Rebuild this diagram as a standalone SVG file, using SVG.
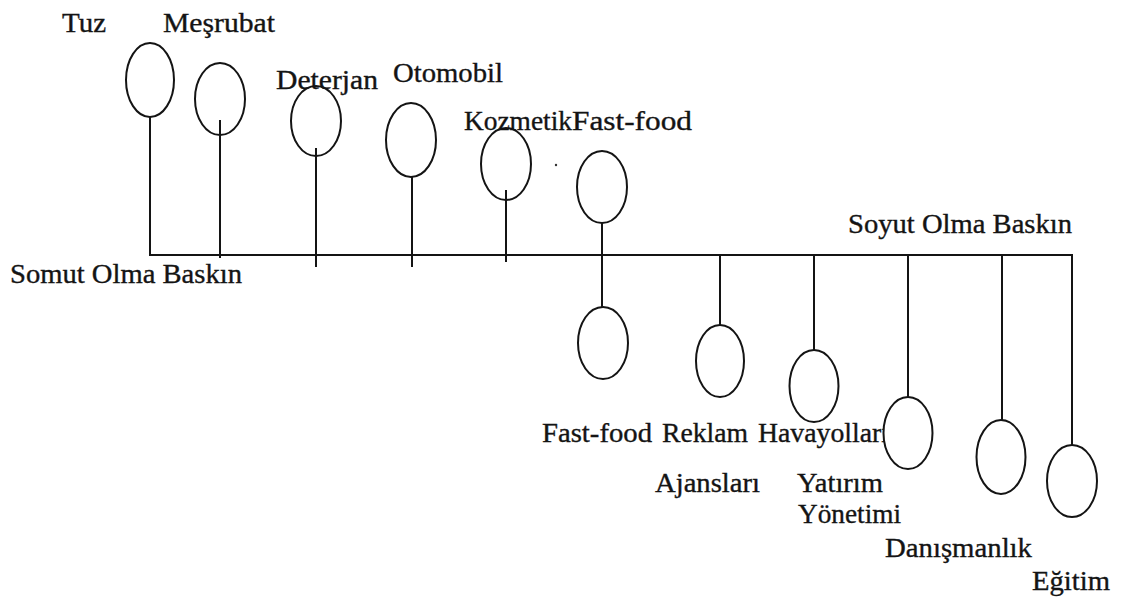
<svg xmlns="http://www.w3.org/2000/svg" width="1122" height="599" viewBox="0 0 1122 599">
  <style>
    .ln { stroke: #141414; stroke-width: 2; fill: none; stroke-linecap: butt; }
    .nd ellipse { stroke: #141414; stroke-width: 2; fill: #ffffff; }
    text { font-family: "Liberation Serif", "Times New Roman", serif; font-size: 27px; fill: #141414; stroke: #141414; stroke-width: 0.35; }
  </style>
  <rect width="1122" height="599" fill="#ffffff"/>

  <!-- axis end labels -->
  <text x="10" y="283" textLength="232" lengthAdjust="spacingAndGlyphs">Somut Olma Baskın</text>
  <text x="848" y="233" textLength="224" lengthAdjust="spacingAndGlyphs">Soyut Olma Baskın</text>

  <!-- upper items -->
  <g id="tuz" class="nd">
    <ellipse cx="150" cy="80" rx="24" ry="37"/>
    <text x="62" y="32" textLength="44" lengthAdjust="spacingAndGlyphs">Tuz</text>
  </g>
  <g id="mesrubat" class="nd">
    <ellipse cx="220" cy="99" rx="25" ry="36"/>
    <text x="163" y="32" textLength="112" lengthAdjust="spacingAndGlyphs">Meşrubat</text>
  </g>
  <g id="deterjan" class="nd">
    <ellipse cx="316" cy="121" rx="25" ry="35"/>
    <text x="276" y="89" textLength="102" lengthAdjust="spacingAndGlyphs">Deterjan</text>
  </g>
  <g id="otomobil" class="nd">
    <ellipse cx="411" cy="140" rx="25" ry="37"/>
    <text x="393" y="82" textLength="110" lengthAdjust="spacingAndGlyphs">Otomobil</text>
  </g>
  <g id="kozmetik" class="nd">
    <text x="464" y="130" textLength="108" lengthAdjust="spacingAndGlyphs">Kozmetik</text>
    <ellipse cx="506" cy="164" rx="25" ry="36" style="fill:none"/>
  </g>
  <g id="fastfood-top" class="nd">
    <ellipse cx="602" cy="187" rx="25" ry="36"/>
    <text x="572" y="130" textLength="120" lengthAdjust="spacingAndGlyphs">Fast-food</text>
  </g>
  <circle cx="556" cy="165" r="1.2" fill="#333"/>

  <!-- lower items -->
  <g id="fastfood-bottom" class="nd">
    <ellipse cx="603" cy="343" rx="25" ry="36"/>
    <text x="542" y="442" textLength="110" lengthAdjust="spacingAndGlyphs">Fast-food</text>
  </g>
  <g id="reklam" class="nd">
    <ellipse cx="720" cy="361" rx="24" ry="36"/>
    <text x="662" y="442" textLength="86" lengthAdjust="spacingAndGlyphs">Reklam</text>
    <text x="655" y="492" textLength="105" lengthAdjust="spacingAndGlyphs">Ajansları</text>
  </g>
  <g id="havayollari" class="nd">
    <ellipse cx="814" cy="386" rx="24.5" ry="36"/>
    <text x="758" y="442" textLength="131" lengthAdjust="spacingAndGlyphs">Havayolları</text>
  </g>
  <g id="yatirim" class="nd">
    <ellipse cx="908" cy="433" rx="24.5" ry="36"/>
    <text x="797" y="492" textLength="86" lengthAdjust="spacingAndGlyphs">Yatırım</text>
    <text x="798" y="523" textLength="103" lengthAdjust="spacingAndGlyphs">Yönetimi</text>
  </g>
  <g id="danismanlik" class="nd">
    <ellipse cx="1001" cy="457" rx="24.5" ry="37"/>
    <text x="885" y="557" textLength="147" lengthAdjust="spacingAndGlyphs">Danışmanlık</text>
  </g>
  <g id="egitim" class="nd">
    <ellipse cx="1072" cy="481" rx="25" ry="36"/>
    <text x="1032" y="590" textLength="78" lengthAdjust="spacingAndGlyphs">Eğitim</text>
  </g>

  <!-- connectors: main axis and stems (drawn last so stems show inside the rings) -->
  <g id="connectors">
    <line class="ln" x1="150" y1="116" x2="150" y2="256"/>
    <line class="ln" x1="220" y1="120" x2="220" y2="258"/>
    <line class="ln" x1="316" y1="148" x2="316" y2="267"/>
    <line class="ln" x1="412" y1="176" x2="412" y2="267"/>
    <line class="ln" x1="506" y1="190" x2="506" y2="262"/>
    <line class="ln" x1="602" y1="222" x2="602" y2="308"/>
    <line class="ln" x1="720" y1="255" x2="720" y2="325"/>
    <line class="ln" x1="814" y1="255" x2="814" y2="350"/>
    <line class="ln" x1="908" y1="255" x2="908" y2="397"/>
    <line class="ln" x1="1002" y1="255" x2="1002" y2="420"/>
    <line class="ln" x1="1072" y1="254" x2="1072" y2="445"/>
    <line class="ln" x1="149" y1="255" x2="1073" y2="255"/>
  </g>
</svg>
